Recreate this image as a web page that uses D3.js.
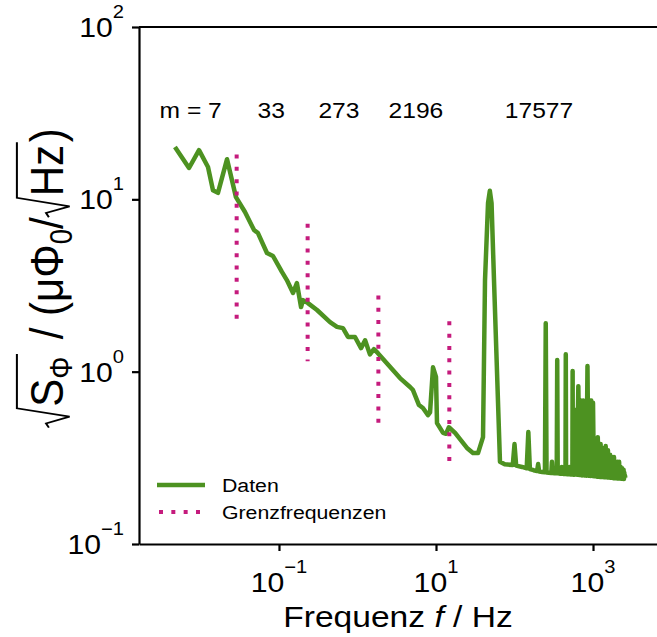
<!DOCTYPE html>
<html>
<head>
<meta charset="utf-8">
<script src="https://cdn.jsdelivr.net/npm/d3@7"></script>
<style>
body { margin: 0; background: #fff; }
text { font-family: "Liberation Sans", Arial, sans-serif; fill: #000; }
</style>
</head>
<body>
<div id="chart"></div>
<script>
// spectrum below the mains peak, [f / Hz, amplitude]
var lowBand = [
    [0.00473, 20.1], [0.00715, 15.2], [0.00958, 19.3], [0.01247, 15.4], [0.01443, 11.3],
    [0.0167, 10.9], [0.0218, 17.1], [0.0283, 10.3], [0.0369, 8.44], [0.0481, 6.64],
    [0.054, 6.37], [0.0703, 4.88], [0.0839, 4.69], [0.109, 3.79], [0.126, 3.40],
    [0.151, 2.86], [0.169, 3.27], [0.191, 2.37], [0.202, 2.60], [0.234, 2.50],
    [0.305, 2.28], [0.447, 1.94], [0.548, 1.82], [0.653, 1.79], [0.757, 1.59],
    [0.929, 1.59], [1.11, 1.37], [1.25, 1.52], [1.44, 1.26], [1.62, 1.35],
    [1.82, 1.28], [3.48, 0.918], [4.67, 0.815], [5.09, 0.782], [6.07, 0.640],
    [6.82, 0.615], [7.91, 0.560], [8.4, 0.58], [9.16, 1.06], [10.0, 0.931],
    [10.3, 0.503], [12.3, 0.441], [13.4, 0.436], [14.6, 0.476], [17.5, 0.441],
    [24.8, 0.361], [29.6, 0.337], [34.3, 0.337]
];

// mains peak and its harmonics
var harmonicBand = [
    [39.7, 0.417], [42.1, 3.4], [46, 9.5], [48.5, 11.2], [51, 9.5], [54.8, 3.4], [65.3, 0.30],
    [75, 0.29], [95, 0.287], [100, 0.38], [105, 0.285], [125, 0.28], [143, 0.275], [150, 0.446],
    [157, 0.272], [175, 0.268], [194, 0.265], [200, 0.291], [206, 0.263], [225, 0.262],
    [244, 0.261], [250, 1.91], [256, 0.26], [275, 0.259], [294, 0.258], [300, 0.30], [306, 0.258],
    [325, 0.257], [345, 0.257], [350, 1.17], [355, 0.257], [375, 0.256], [396, 0.256], [400, 0.28],
    [404, 0.256], [425, 0.255], [446, 0.255], [450, 1.26], [454, 0.255], [475, 0.254], [496, 0.254],
    [500, 0.28], [504, 0.254], [525, 0.253], [546, 0.253], [550, 1.01], [554, 0.253], [575, 0.252],
    [600, 0.6], [625, 0.252], [650, 0.824], [675, 0.251], [700, 0.68], [725, 0.25], [750, 0.68],
    [775, 0.25], [800, 0.66], [825, 0.249], [850, 1.08], [875, 0.249], [900, 0.68], [925, 0.248],
    [950, 0.68], [975, 0.248], [1000, 0.66], [1025, 0.247], [1050, 0.40], [1075, 0.247],
    [1100, 0.37], [1125, 0.246], [1150, 0.417], [1175, 0.246], [1200, 0.36], [1225, 0.245],
    [1250, 0.38], [1275, 0.245], [1300, 0.35], [1325, 0.245], [1350, 0.36], [1375, 0.244],
    [1400, 0.34], [1425, 0.244], [1450, 0.37], [1475, 0.244], [1500, 0.33], [1525, 0.243],
    [1550, 0.35], [1575, 0.243], [1600, 0.32], [1625, 0.243], [1650, 0.33], [1675, 0.242],
    [1700, 0.31], [1725, 0.242], [1750, 0.32], [1775, 0.242], [1800, 0.30], [1825, 0.241],
    [1850, 0.32], [1875, 0.241], [1900, 0.29], [1925, 0.241], [1950, 0.30], [1975, 0.241],
    [2000, 0.29], [2025, 0.24], [2050, 0.30], [2075, 0.24], [2100, 0.28], [2125, 0.24],
    [2150, 0.30], [2175, 0.24], [2200, 0.28], [2225, 0.24], [2250, 0.28], [2275, 0.239],
    [2300, 0.27], [2325, 0.239], [2350, 0.275], [2375, 0.239], [2400, 0.265], [2425, 0.238],
    [2450, 0.27], [2475, 0.238], [2500, 0.26], [2525, 0.245], [2550, 0.25], [2580, 0.242],
    [2620, 0.24]
];

// cut-off frequencies (dotted markers)
var cutoffFreqs = [0.0289, 0.2317, 1.845, 14.78];
var cutoffTop = [18.2, 7.21, 2.77, 1.96];
var cutoffBottom = [2.01, 1.15, 0.499, 0.298];

var mLabels = ["m = 7", "33", "273", "2196", "17577"];
var mLabelFreqs = [0.0075, 0.0796, 0.58, 5.55, 205];

var xTicks = [0.1, 10, 1000];
var xTickExp = ["\u22121", "1", "3"];
var yTicks = [0.1, 1, 10, 100];
var yTickExp = ["\u22121", "0", "1", "2"];
var legendNames = ["Daten", "Grenzfrequenzen"];

function drawChart(target) {
    var width = 657;
    var height = 637;
    var left = 139, right = 657, top = 27, bottom = 544;
    var green = "#4d9221";
    var pink = "#c51b7d";
    var sx = 1.12; // glyphs in the picture are a bit wider than Arial

    var svg = d3.select(target)
        .append("svg")
        .attr("width", width)
        .attr("height", height);

    var x = d3.scaleLog()
        .domain([Math.pow(10, -2.783), Math.pow(10, 3.815)])
        .range([left, right]);
    var y = d3.scaleLog()
        .domain([0.1, 100])
        .range([bottom, top]);

    function stretchText(sel, px, py) {
        return sel.attr("transform", `translate(${px},${py}) scale(${sx},1)`);
    }

    // axes
    svg.append("g")
        .attr("transform", `translate(0,${bottom})`)
        .call(d3.axisBottom(x).tickValues(xTicks).tickSize(7).tickSizeOuter(0).tickFormat(""));
    svg.append("g")
        .attr("transform", `translate(${left},0)`)
        .call(d3.axisLeft(y).tickValues(yTicks).tickSize(7).tickSizeOuter(0).tickFormat(""));
    svg.selectAll(".domain, .tick line")
        .attr("stroke", "#000")
        .attr("stroke-width", 2.2);
    svg.append("line")
        .attr("x1", left).attr("x2", right)
        .attr("y1", top).attr("y2", top)
        .attr("stroke", "#000")
        .attr("stroke-width", 2.2);

    xTicks.forEach(function (t, i) {
        var lab = stretchText(svg.append("text"), x(t), 592)
            .attr("text-anchor", "middle")
            .style("font-size", "27px");
        lab.append("tspan").text("10");
        lab.append("tspan").attr("dy", -19).style("font-size", "18px").text(xTickExp[i]);
    });
    yTicks.forEach(function (t, i) {
        var lab = stretchText(svg.append("text"), 124, y(t) + 10)
            .attr("text-anchor", "end")
            .style("font-size", "27px");
        lab.append("tspan").text("10");
        lab.append("tspan").attr("dy", -19).style("font-size", "18px").text(yTickExp[i]);
    });

    // x label
    var xl = stretchText(svg.append("text"), (left + right) / 2, 627)
        .attr("text-anchor", "middle")
        .style("font-size", "30px");
    xl.append("tspan").text("Frequenz ");
    xl.append("tspan").style("font-style", "italic").text("f");
    xl.append("tspan").text(" / Hz");

    // y label, built piece by piece so the root signs can span their content
    var fs = 42;
    var yl = svg.append("g")
        .attr("transform", `translate(63,278) scale(${sx},1) rotate(-90)`);
    var inner = yl.append("g");
    var cursor = 0;
    function piece(str, size, dy) {
        var t = inner.append("text")
            .attr("x", cursor)
            .attr("y", dy || 0)
            .style("font-size", size + "px")
            .text(str);
        cursor += t.node().getComputedTextLength();
        return t;
    }
    function radical(endFn) {
        var x0 = cursor;
        cursor += 0.5 * fs;
        endFn();
        var x1 = cursor + 0.06 * fs;
        inner.append("path")
            .attr("d", `M${x0},${-0.3 * fs} L${x0 + 0.1 * fs},${-0.36 * fs} L${x0 + 0.26 * fs},${0.14 * fs} L${x0 + 0.46 * fs},${-0.98 * fs} L${x1},${-0.98 * fs}`)
            .attr("fill", "none")
            .attr("stroke", "#000")
            .attr("stroke-width", 1.8);
        cursor = x1;
    }
    radical(function () {
        piece("S", fs);
        piece("\u03a6", fs * 0.66, fs * 0.2);
    });
    cursor += 0.35 * fs;
    piece("/ (\u03bc\u03a6", fs);
    piece("0", fs * 0.66, fs * 0.2);
    piece("/", fs);
    radical(function () {
        piece("Hz", fs);
    });
    piece(")", fs);
    inner.attr("transform", `translate(${-cursor / 2},0)`);

    // data line
    var line = d3.line()
        .x(d => x(d[0]))
        .y(d => y(d[1]));
    svg.append("path")
        .datum(lowBand.concat(harmonicBand))
        .attr("d", line)
        .attr("fill", "none")
        .attr("stroke", green)
        .attr("stroke-width", 4.5)
        .attr("stroke-linejoin", "round");

    // cut-off markers
    svg.append("g")
        .selectAll("line")
        .data(cutoffFreqs)
        .enter().append("line")
        .attr("x1", d => x(d))
        .attr("x2", d => x(d))
        .attr("y1", (d, i) => y(cutoffTop[i]))
        .attr("y2", (d, i) => y(cutoffBottom[i]))
        .attr("stroke", pink)
        .attr("stroke-width", 4)
        .attr("stroke-dasharray", "4 8.33");

    // m annotations
    mLabels.forEach(function (m, i) {
        stretchText(svg.append("text"), x(mLabelFreqs[i]), 117.5)
            .attr("text-anchor", "middle")
            .style("font-size", "22px")
            .text(m);
    });

    // legend
    var legend = svg.append("g");
    legend.append("line")
        .attr("x1", 157).attr("x2", 205)
        .attr("y1", 485).attr("y2", 485)
        .attr("stroke", green)
        .attr("stroke-width", 4.5);
    legend.append("line")
        .attr("x1", 159).attr("x2", 205)
        .attr("y1", 512).attr("y2", 512)
        .attr("stroke", pink)
        .attr("stroke-width", 4)
        .attr("stroke-dasharray", "4 8.33");
    legendNames.forEach(function (name, i) {
        stretchText(legend.append("text"), 222, 492 + i * 27)
            .style("font-size", "19px")
            .text(name);
    });
}

drawChart(document.getElementById("chart"));
</script>
</body>
</html>
